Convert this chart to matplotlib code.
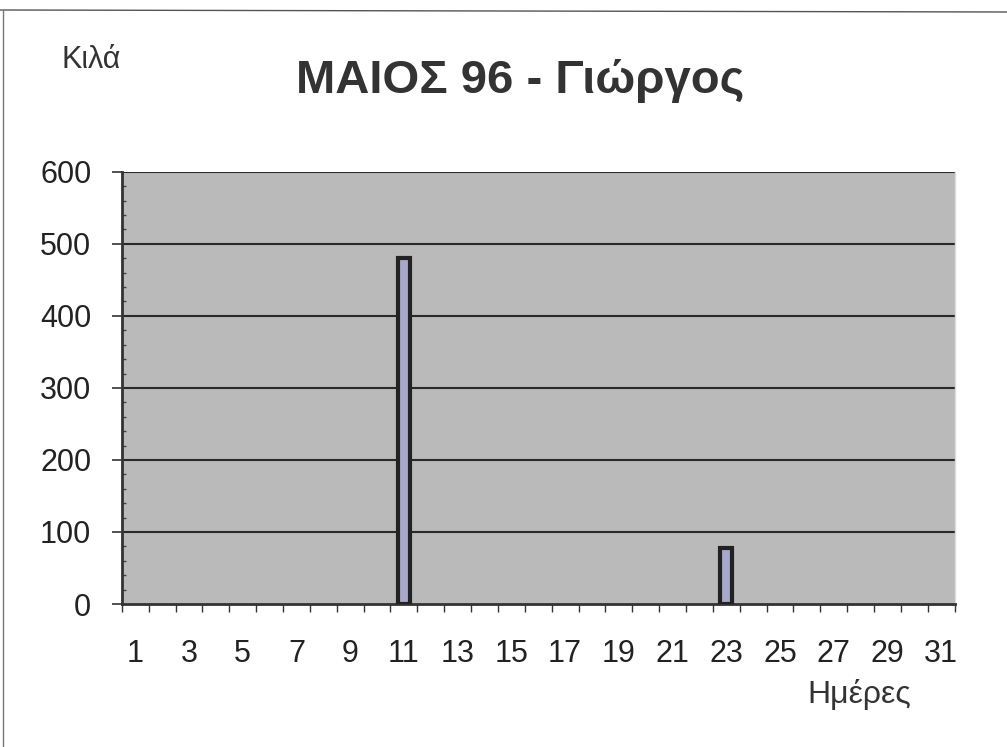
import matplotlib
matplotlib.use("Agg")
import matplotlib.pyplot as plt
from matplotlib.lines import Line2D
from matplotlib.ticker import MultipleLocator

plt.rcParams['font.family'] = ['Liberation Sans', 'DejaVu Sans']

days = list(range(1, 32))
kilos = [0] * 31
kilos[11 - 1] = 480
kilos[23 - 1] = 78
y_ticks = [0, 100, 200, 300, 400, 500, 600]
x_labels = [str(d) if d % 2 == 1 else "" for d in days]

fig = plt.figure(figsize=(10.07, 7.47), dpi=100)
ax = fig.add_axes([0.121, 0.1914, 0.827, 0.5786])
ax.set_facecolor('#bababa')

bar_days = [d for d, k in zip(days, kilos) if k > 0]
bar_vals = [k for k in kilos if k > 0]
ax.bar(bar_days, bar_vals, width=0.45, color='#a8a8cc', edgecolor='#222222', linewidth=3, zorder=3)

ax.set_xlim(0.5, 31.5)
ax.set_ylim(0, 600)
ax.set_yticks(y_ticks)
ax.yaxis.set_minor_locator(MultipleLocator(20))
for y in y_ticks[1:]:
    ax.axhline(y, color='#2a2a2a', linewidth=1.5, zorder=2)

ax.set_xticks(days)
ax.set_xticklabels(x_labels)
ax.set_xticks([d + 0.5 for d in days[:-1]] + [0.5, 31.5], minor=True)
ax.tick_params(axis='x', which='major', length=0, pad=25, labelsize=22, labelcolor='#222222')
ax.tick_params(axis='x', which='minor', length=6, direction='out', color='#333333', width=1)
ax.tick_params(axis='y', which='major', length=7, direction='out', pad=15, labelsize=22,
               labelcolor='#222222', color='#333333', width=1.2)
ax.tick_params(axis='y', which='minor', length=3, direction='in', color='#444444', width=1)

for s in ['left', 'bottom']:
    ax.spines[s].set_color('#333333')
    ax.spines[s].set_linewidth(2)
ax.spines['top'].set_visible(False)
ax.spines['right'].set_color('#dddddd')
ax.spines['right'].set_linewidth(1)

fig.text(0.517, 0.891, 'ΜΑΙΟΣ 96 - Γιώργος', ha='center', va='center',
         fontsize=34, fontweight='bold', color='#333333')
fig.text(0.061, 1 - 45 / 747, 'Κιλά', ha='left', va='top', fontsize=22, color='#333333')
fig.text(0.802, 1 - 679 / 747, 'Ημέρες', ha='left', va='top', fontsize=23, color='#333333')

fig.add_artist(Line2D([0, 1], [1 - 10 / 747, 1 - 12 / 747], transform=fig.transFigure,
                      color='#555555', linewidth=1))
fig.add_artist(Line2D([3 / 1007, 3 / 1007], [0, 1 - 10 / 747], transform=fig.transFigure,
                      color='#777777', linewidth=1))

fig.savefig('out.png', dpi=100)
